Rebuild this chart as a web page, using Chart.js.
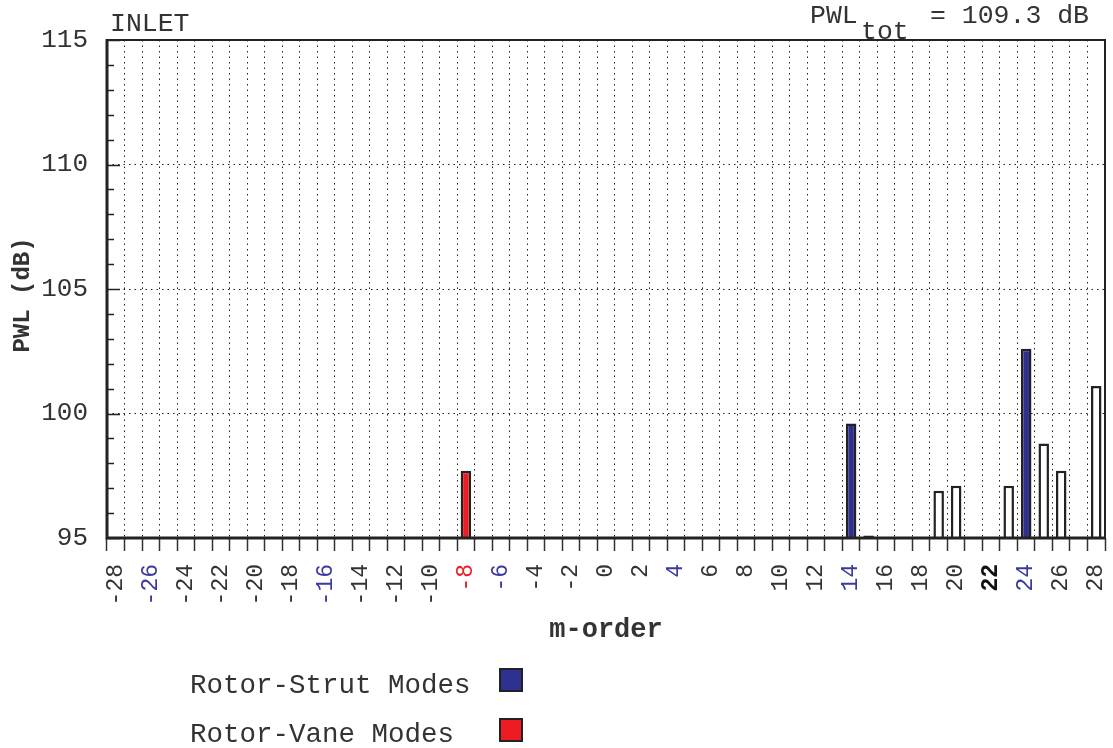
<!DOCTYPE html>
<html>
<head>
<meta charset="utf-8">
<script src="https://cdn.jsdelivr.net/npm/chart.js@4.4.1/dist/chart.umd.min.js"></script>
<style>
  body { margin: 0; background: #fff; }
  #wrap { width: 1113px; height: 748px; position: relative; }
</style>
</head>
<body>
<div id="wrap"><canvas id="chart"></canvas></div>
<script>
// m-order categories on the x axis
const mOrders = ['-28', '-27', '-26', '-25', '-24', '-23', '-22', '-21', '-20', '-19', '-18', '-17', '-16', '-15',
  '-14', '-13', '-12', '-11', '-10', '-9', '-8', '-7', '-6', '-5', '-4', '-3', '-2', '-1', '0', '1', '2', '3',
  '4', '5', '6', '7', '8', '9', '10', '11', '12', '13', '14', '15', '16', '17', '18', '19', '20', '21', '22',
  '23', '24', '25', '26', '27', '28'];

// measured modes (PWL in dB)
const modeOrders = ['-8', '14', '15', '19', '20', '23', '24', '25', '26', '28'];
const modeLevels = [97.7, 99.6, 95.1, 96.9, 97.1, 97.1, 102.6, 98.8, 97.7, 101.1];
const modeTypes = ['vane', 'strut', 'other', 'other', 'other', 'other', 'strut', 'other', 'other', 'other'];

// tick label highlighting
const strutTicks = ['-26', '-16', '-6', '4', '14', '24'];
const vaneTicks = ['-8'];
const boldTicks = ['22'];

const yTicks = [95, 100, 105, 110, 115];
const pwlTotal = '109.3';

const FONT = '"Courier New", "Liberation Mono", monospace';
const STRUT = '#2e3192';
const VANE = '#ed1c24';
const INK = '#222';

const typeColor = { strut: STRUT, vane: VANE, other: '#ffffff' };

const extras = {
  id: 'extras',
  afterDraw(chart) {
    const { ctx, chartArea: a, scales } = chart;
    const y = scales.y;
    ctx.save();

    // inner minor / major ticks on the left axis
    ctx.strokeStyle = INK;
    ctx.lineWidth = 1.5;
    for (let v = 95; v <= 115; v++) {
      const py = Math.round(y.getPixelForValue(v)) + 0.5;
      const len = yTicks.includes(v) ? 13 : 7;
      ctx.beginPath();
      ctx.moveTo(a.left, py);
      ctx.lineTo(a.left + len, py);
      ctx.stroke();
    }

    // frame
    ctx.lineWidth = 2;
    ctx.beginPath();
    ctx.moveTo(a.left, a.top);
    ctx.lineTo(a.right, a.top);
    ctx.lineTo(a.right, a.bottom);
    ctx.stroke();
    ctx.lineWidth = 3;
    ctx.beginPath();
    ctx.moveTo(a.left, a.top - 1);
    ctx.lineTo(a.left, a.bottom);
    ctx.lineTo(a.right + 1, a.bottom);
    ctx.stroke();

    // header texts
    ctx.fillStyle = '#333';
    ctx.font = '26.5px ' + FONT;
    ctx.textAlign = 'left';
    ctx.textBaseline = 'alphabetic';
    ctx.fillText('INLET', 110, 31);
    ctx.fillText('PWL', 810, 23);
    ctx.fillText('tot', 861, 39);
    ctx.fillText('= ' + pwlTotal + ' dB', 930, 23);

    // axis titles
    ctx.font = 'bold 27px ' + FONT;
    ctx.textAlign = 'center';
    ctx.fillText('m-order', (a.left + a.right) / 2, 637);
    ctx.save();
    ctx.translate(29, 295);
    ctx.rotate(-Math.PI / 2);
    ctx.font = 'bold 24px ' + FONT;
    ctx.fillText('PWL (dB)', 0, 0);
    ctx.restore();

    // legend
    ctx.font = '27.5px ' + FONT;
    ctx.textAlign = 'left';
    ctx.fillText('Rotor-Strut Modes', 190, 693);
    ctx.fillText('Rotor-Vane Modes', 190, 742);
    ctx.lineWidth = 2;
    ctx.strokeStyle = INK;
    ctx.fillStyle = STRUT;
    ctx.fillRect(500, 669, 22, 22);
    ctx.strokeRect(500, 669, 22, 22);
    ctx.fillStyle = VANE;
    ctx.fillRect(500, 719, 22, 22);
    ctx.strokeRect(500, 719, 22, 22);

    ctx.restore();
  }
};

new Chart(document.getElementById('chart'), {
  type: 'bar',
  data: {
    labels: mOrders,
    datasets: [{
      data: modeOrders.map((m, i) => ({ x: m, y: modeLevels[i] })),
      backgroundColor: modeTypes.map(t => typeColor[t]),
      borderColor: INK,
      borderWidth: 2.5,
      borderSkipped: false,
      categoryPercentage: 1,
      barPercentage: 0.6
    }]
  },
  options: {
    responsive: true,
    maintainAspectRatio: false,
    animation: false,
    layout: { padding: { top: 40, right: 8, left: 0, bottom: 0 } },
    plugins: { legend: { display: false }, tooltip: { enabled: false } },
    scales: {
      x: {
        afterFit(scale) {
          scale.height = 210;
          scale.paddingLeft = 0;
          scale.paddingRight = 0;
        },
        border: { display: false, dash: [1.5, 4] },
        grid: {
          offset: true,
          color: '#222',
          lineWidth: 1,
          drawTicks: true,
          tickLength: 13,
          tickColor: '#333',
          tickWidth: 1.5
        },
        ticks: {
          autoSkip: false,
          minRotation: 90,
          maxRotation: 90,
          padding: 13,
          callback(value, index) {
            const lbl = mOrders[index];
            return Number(lbl) % 2 === 0 ? lbl : '';
          },
          color(c) {
            const lbl = c.tick && c.tick.label;
            if (strutTicks.includes(lbl)) return '#3a3a9e';
            if (vaneTicks.includes(lbl)) return '#ed1c24';
            if (boldTicks.includes(lbl)) return '#111';
            return '#333';
          },
          font(c) {
            const lbl = c.tick && c.tick.label;
            return { family: FONT, size: 23, weight: boldTicks.includes(lbl) ? 'bold' : 'normal' };
          }
        }
      },
      y: {
        min: 95,
        max: 115,
        afterFit(scale) {
          scale.width = 107;
          scale.paddingTop = 0;
          scale.paddingBottom = 0;
        },
        border: { display: false, dash: [1.5, 4] },
        grid: {
          color(c) { return yTicks.includes(c.tick.value) ? '#222' : 'rgba(0,0,0,0)'; },
          lineWidth: 1,
          drawTicks: false
        },
        ticks: {
          stepSize: 1,
          autoSkip: false,
          padding: 19,
          color: '#333',
          font: { family: FONT, size: 26 },
          callback(value) { return yTicks.includes(value) ? value : ''; }
        }
      }
    }
  },
  plugins: [extras]
});
</script>
</body>
</html>
